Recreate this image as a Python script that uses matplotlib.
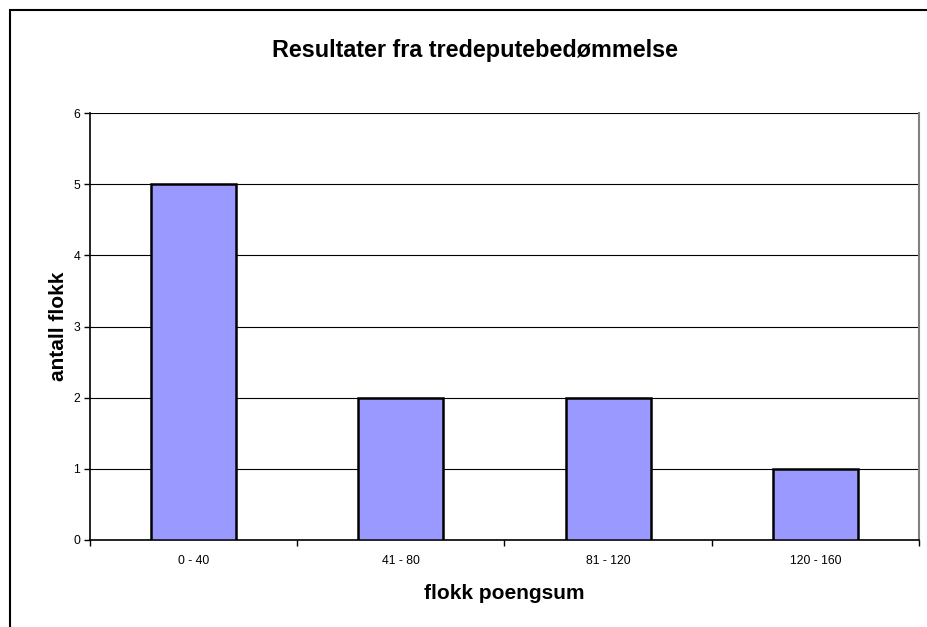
import matplotlib.pyplot as plt
from matplotlib.patches import Rectangle

plt.rcParams['font.family'] = ['Liberation Sans', 'DejaVu Sans']

categories = ['0 - 40', '41 - 80', '81 - 120', '120 - 160']
counts = [5, 2, 2, 1]

W, H = 927, 627
fig = plt.figure(figsize=(W / 100, H / 100), dpi=100)
ax = fig.add_axes([90 / W, 1 - 540 / H, (919 - 90) / W, (540 - 113) / H])

# outer chart frame (cut off at right and bottom)
fig.patches.append(Rectangle((10 / W, -0.1), 1.2, 1 - 10 / H + 0.1,
                             transform=fig.transFigure, fill=False,
                             edgecolor='black', linewidth=1.5))

x = list(range(len(categories)))
ax.bar(x, counts, width=0.41, color='#9999ff', edgecolor='black', linewidth=1.8, zorder=3)

ax.set_xlim(-0.5, len(categories) - 0.5)
ax.set_ylim(0, 6)
ax.set_yticks(range(7))
ax.yaxis.grid(True, color='black', linewidth=0.8, zorder=0)

ax.set_xticks(x)
ax.set_xticklabels(categories, fontsize=8.8)
ax.tick_params(axis='x', length=0, pad=11)
ax.set_xticks([i + 0.5 for i in range(-1, len(categories))], minor=True)
ax.tick_params(axis='x', which='minor', length=4, width=1, direction='out')
ax.tick_params(axis='y', labelsize=8.8, length=4, width=1, direction='out', pad=3)

for s in ['left', 'bottom']:
    ax.spines[s].set_color('black')
    ax.spines[s].set_linewidth(1.2)
ax.spines['top'].set_visible(False)
ax.spines['right'].set_color('#808080')
ax.spines['right'].set_linewidth(1.5)

ax.set_xlabel('flokk poengsum', fontsize=15, fontweight='bold', labelpad=12)
ax.set_ylabel('antall flokk', fontsize=15, fontweight='bold', labelpad=4)
fig.text(475 / W, 1 - 50 / H, 'Resultater fra tredeputebedømmelse', ha='center', va='center',
         fontsize=16.8, fontweight='bold')

fig.savefig('out.png', dpi=100)
